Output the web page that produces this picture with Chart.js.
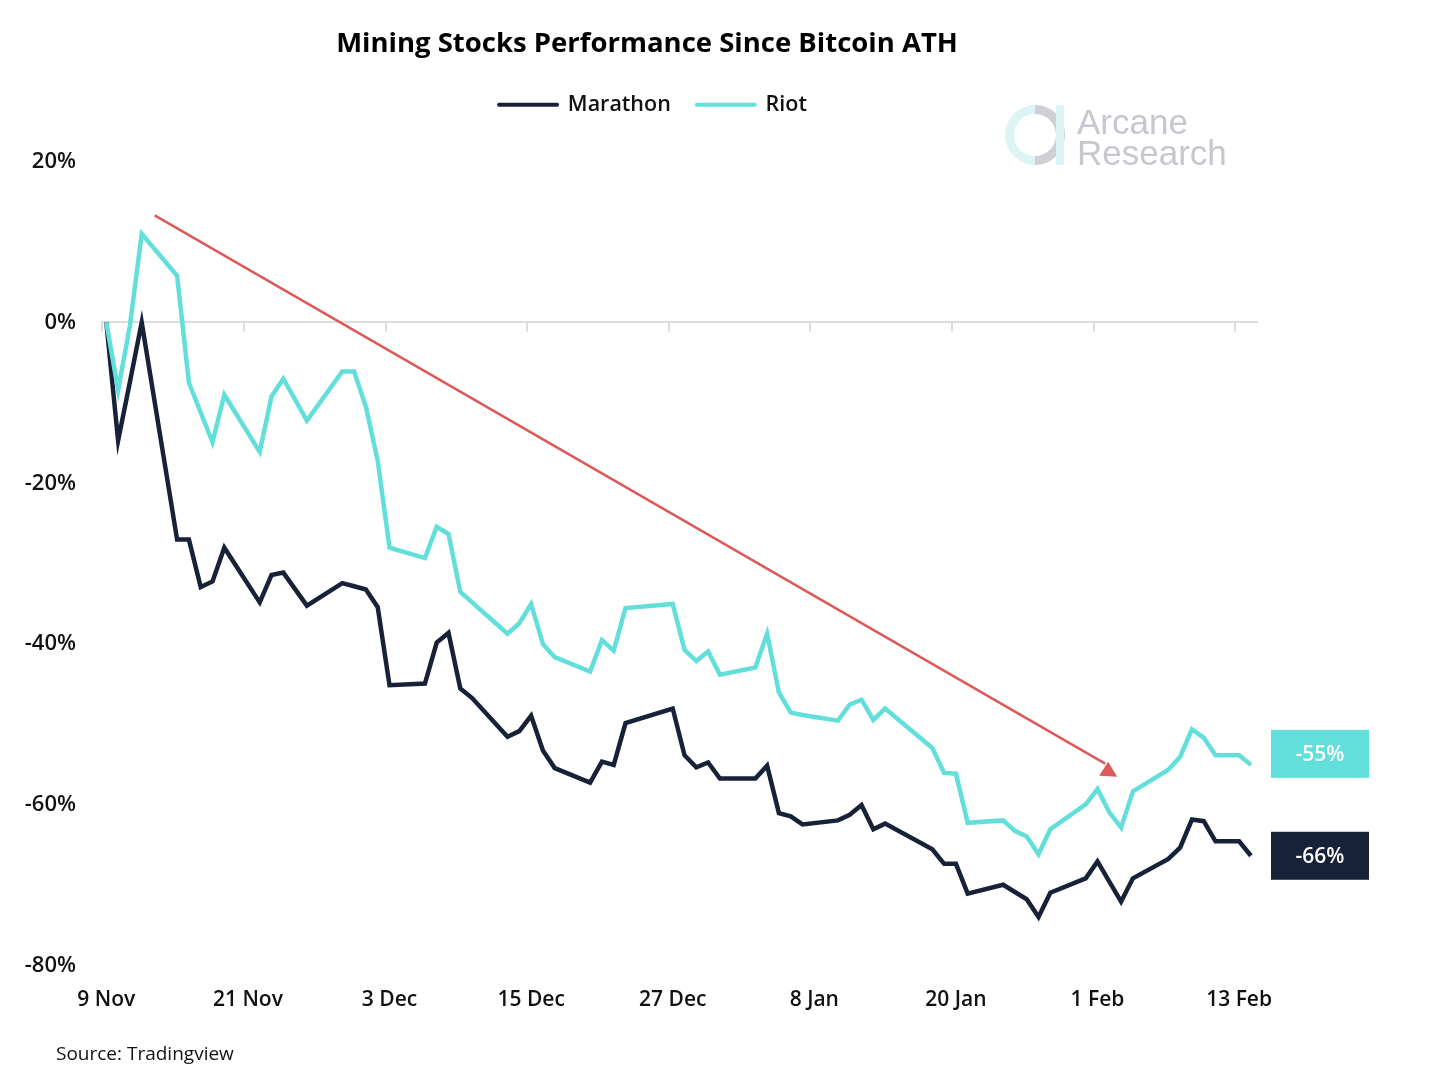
<!DOCTYPE html>
<html>
<head>
<meta charset="utf-8">
<script src="https://cdn.jsdelivr.net/npm/chart.js@4.4.0/dist/chart.umd.min.js"></script>
<style>
    html, body { margin: 0; padding: 0; background: #ffffff; }
    #wrap { width: 1440px; height: 1074px; }
</style>
</head>
<body>
<div id="wrap"><canvas id="miningChart" width="1440" height="1074"></canvas></div>
<script>
// trading days since the bitcoin ATH (9 Nov 2021)
const dates = [
    '2021-11-09', '2021-11-10', '2021-11-11', '2021-11-12', '2021-11-15', '2021-11-16', '2021-11-17',
    '2021-11-18', '2021-11-19', '2021-11-22', '2021-11-23', '2021-11-24', '2021-11-26', '2021-11-29',
    '2021-11-30', '2021-12-01', '2021-12-02', '2021-12-03', '2021-12-06', '2021-12-07', '2021-12-08',
    '2021-12-09', '2021-12-10', '2021-12-13', '2021-12-14', '2021-12-15', '2021-12-16', '2021-12-17',
    '2021-12-20', '2021-12-21', '2021-12-22', '2021-12-23', '2021-12-27', '2021-12-28', '2021-12-29',
    '2021-12-30', '2021-12-31', '2022-01-03', '2022-01-04', '2022-01-05', '2022-01-06', '2022-01-07',
    '2022-01-10', '2022-01-11', '2022-01-12', '2022-01-13', '2022-01-14', '2022-01-18', '2022-01-19',
    '2022-01-20', '2022-01-21', '2022-01-24', '2022-01-25', '2022-01-26', '2022-01-27', '2022-01-28',
    '2022-01-31', '2022-02-01', '2022-02-02', '2022-02-03', '2022-02-04', '2022-02-07', '2022-02-08',
    '2022-02-09', '2022-02-10', '2022-02-11', '2022-02-13', '2022-02-14'
];

const marathon = [
    0, -14.7, -7.4, 0, -27.0, -27.0, -32.9,
    -32.2, -28.0, -34.8, -31.4, -31.1, -35.2, -32.4,
    -32.8, -33.2, -35.4, -45.1, -44.9, -39.8, -38.6,
    -45.5, -46.7, -51.5, -50.8, -48.9, -53.2, -55.4,
    -57.2, -54.6, -55.0, -49.8, -48.0, -53.8, -55.3,
    -54.7, -56.7, -56.7, -55.1, -61.0, -61.4, -62.4,
    -61.9, -61.2, -60.0, -63.0, -62.3, -65.5, -67.3,
    -67.3, -71.0, -69.9, -70.8, -71.7, -73.9, -70.9,
    -69.1, -67.0, -69.5, -72.0, -69.1, -66.7, -65.3,
    -61.8, -62.0, -64.5, -64.5, -66.3
];

const riot = [
    0, -8.4, -0.4, 11.0, 5.8, -7.5, -11.2,
    -14.9, -9.0, -16.1, -9.2, -7.0, -12.2, -6.1,
    -6.1, -10.5, -17.2, -28.0, -29.3, -25.4, -26.3,
    -33.5, -34.8, -38.7, -37.4, -35.0, -40.0, -41.6,
    -43.4, -39.5, -40.8, -35.5, -35.0, -40.7, -42.1,
    -40.9, -43.8, -42.9, -38.7, -46.0, -48.5, -48.8,
    -49.5, -47.5, -46.9, -49.4, -48.0, -52.9, -56.0,
    -56.1, -62.2, -61.9, -63.2, -63.9, -66.1, -63.0,
    -59.9, -58.0, -60.9, -62.8, -58.3, -55.6, -54.0,
    -50.6, -51.6, -53.8, -53.8, -55.0
];

const tickDates = ['2021-11-09', '2021-11-21', '2021-12-03', '2021-12-15', '2021-12-27',
                   '2022-01-08', '2022-01-20', '2022-02-01', '2022-02-13'];
const tickLabels = ['9 Nov', '21 Nov', '3 Dec', '15 Dec', '27 Dec', '8 Jan', '20 Jan', '1 Feb', '13 Feb'];

// trend arrow, in [day since ATH, %]
const arrowStart = [4.1, 13.3];
const arrowEnd = [84.9, -54.6];

const MARATHON = '#172239';
const RIOT = '#62dfdb';
const FONT = "'Open Sans', 'Noto Sans', sans-serif";

function dayOf(s) {
    const t = Date.UTC(+s.slice(0, 4), +s.slice(5, 7) - 1, +s.slice(8, 10));
    return (t - Date.UTC(2021, 10, 9)) / 864e5;
}
const tickDays = tickDates.map(dayOf);

// espacio extra debajo de la leyenda y centrado de título/leyenda
const headerLayout = {
    id: 'headerLayout',
    beforeInit(chart) {
        const fit = chart.legend.fit;
        chart.legend.fit = function () {
            fit.call(this);
            this.height += 36;
        };
    },
    afterLayout(chart) {
        chart.titleBlock.left += 18;
        chart.titleBlock.right += 18;
        chart.legend.left += 24;
        chart.legend.right += 24;
    }
};

// línea del 0% con marcas de fecha, flecha, etiquetas finales, logo y fuente
const extras = {
    id: 'extras',
    beforeDatasetsDraw(chart) {
        const { ctx, scales: { x, y } } = chart;
        const y0 = y.getPixelForValue(0);
        ctx.save();
        ctx.strokeStyle = '#dcdcdc';
        ctx.lineWidth = 2;
        tickDays.forEach(d => {
            const px = Math.round(x.getPixelForValue(d)) - 4;
            ctx.beginPath();
            ctx.moveTo(px, y0);
            ctx.lineTo(px, y0 + 9);
            ctx.stroke();
        });
        ctx.restore();
    },
    afterDatasetsDraw(chart) {
        const { ctx, chartArea, scales: { x, y } } = chart;
        ctx.save();

        // flecha roja
        const x1 = x.getPixelForValue(arrowStart[0]), y1 = y.getPixelForValue(arrowStart[1]);
        const x2 = x.getPixelForValue(arrowEnd[0]), y2 = y.getPixelForValue(arrowEnd[1]);
        ctx.strokeStyle = '#dc5a5a';
        ctx.fillStyle = '#dc5a5a';
        ctx.lineWidth = 2.5;
        ctx.beginPath();
        ctx.moveTo(x1, y1);
        ctx.lineTo(x2 - 3, y2 + 2);
        ctx.stroke();
        ctx.beginPath();
        ctx.moveTo(x2, y2);
        ctx.lineTo(x2 - 9, y2 + 14);
        ctx.lineTo(x2 + 9, y2 + 15);
        ctx.closePath();
        ctx.fill();

        // etiquetas con el último valor
        const tags = [
            { data: marathon, color: MARATHON, nudge: 0 },
            { data: riot, color: RIOT, nudge: -11 }
        ];
        ctx.font = `600 21px ${FONT}`;
        ctx.textAlign = 'center';
        ctx.textBaseline = 'middle';
        tags.forEach(t => {
            const last = t.data[t.data.length - 1];
            const cy = y.getPixelForValue(last) + t.nudge;
            const bx = chartArea.right + 13;
            ctx.fillStyle = t.color;
            ctx.fillRect(bx, cy - 24, 98, 48);
            ctx.fillStyle = '#ffffff';
            ctx.fillText(Math.round(last) + '%', bx + 49, cy + 1);
        });
        ctx.restore();
    },
    afterDraw(chart) {
        const ctx = chart.ctx;
        ctx.save();

        // logo
        ctx.lineWidth = 9;
        ctx.strokeStyle = '#dcf5f4';
        ctx.beginPath();
        ctx.arc(1035, 135, 25.5, Math.PI / 2, Math.PI * 1.5);
        ctx.stroke();
        ctx.strokeStyle = '#cfcfd6';
        ctx.beginPath();
        ctx.arc(1035, 135, 25.5, -Math.PI / 2, Math.PI / 2);
        ctx.stroke();
        ctx.fillStyle = '#dcf5f4';
        ctx.fillRect(1056, 105, 8, 60);

        ctx.fillStyle = '#c6c6ce';
        ctx.font = "35px 'Liberation Sans', Arial, sans-serif";
        ctx.textAlign = 'left';
        ctx.textBaseline = 'alphabetic';
        ctx.fillText('Arcane', 1077, 134);
        ctx.fillText('Research', 1077, 165);

        // fuente
        ctx.fillStyle = '#111111';
        ctx.font = `19px ${FONT}`;
        ctx.fillText('Source: Tradingview', 56, 1060);
        ctx.restore();
    }
};

const ctx = document.getElementById('miningChart').getContext('2d');

const myChart = new Chart(ctx, {
    type: 'line',
    data: {
        datasets: [
            {
                label: 'Marathon',
                data: dates.map((d, i) => ({ x: dayOf(d), y: marathon[i] })),
                borderColor: MARATHON,
                borderWidth: 4.5,
                pointRadius: 0,
                tension: 0,
                order: 1
            },
            {
                label: 'Riot',
                data: dates.map((d, i) => ({ x: dayOf(d), y: riot[i] })),
                borderColor: RIOT,
                borderWidth: 4.5,
                pointRadius: 0,
                tension: 0,
                order: 0
            }
        ]
    },
    options: {
        responsive: false,
        animation: false,
        devicePixelRatio: 1,
        layout: {
            padding: { top: 22, left: 0, right: 182, bottom: 0 }
        },
        scales: {
            x: {
                type: 'linear',
                min: -0.45,
                max: 97.6,
                afterBuildTicks: axis => { axis.ticks = tickDays.map(v => ({ value: v })); },
                afterFit: axis => { axis.height = 108; },
                grid: { display: false },
                border: { display: false },
                ticks: {
                    autoSkip: false,
                    maxRotation: 0,
                    padding: 13,
                    color: '#111111',
                    font: { family: FONT, size: 21, weight: '600' },
                    callback: v => tickLabels[tickDays.indexOf(v)]
                }
            },
            y: {
                min: -80,
                max: 20,
                afterFit: axis => { axis.width = 101; },
                grid: {
                    color: c => (c.tick && c.tick.value === 0 ? '#dcdcdc' : 'rgba(0,0,0,0)'),
                    lineWidth: 2,
                    drawTicks: false
                },
                border: { display: false },
                ticks: {
                    stepSize: 20,
                    padding: 25,
                    color: '#111111',
                    font: { family: FONT, size: 22, weight: '600' },
                    callback: v => v + '%'
                }
            }
        },
        plugins: {
            title: {
                display: true,
                text: 'Mining Stocks Performance Since Bitcoin ATH',
                color: '#000000',
                font: { family: FONT, size: 27.5, weight: 'bold' },
                padding: { top: 6, bottom: 7 }
            },
            legend: {
                labels: {
                    usePointStyle: true,
                    pointStyleWidth: 58,
                    padding: 26,
                    color: '#111111',
                    font: { family: FONT, size: 21.5, weight: '600' },
                    sort: (a, b) => a.datasetIndex - b.datasetIndex,
                    generateLabels: chart => chart.data.datasets.map((ds, i) => ({
                        text: ds.label,
                        fillStyle: ds.borderColor,
                        strokeStyle: ds.borderColor,
                        lineWidth: 4,
                        lineCap: 'round',
                        pointStyle: 'line',
                        hidden: false,
                        datasetIndex: i,
                        fontColor: '#111111'
                    }))
                }
            },
            tooltip: { enabled: false }
        }
    },
    plugins: [headerLayout, extras]
});
</script>
</body>
</html>
